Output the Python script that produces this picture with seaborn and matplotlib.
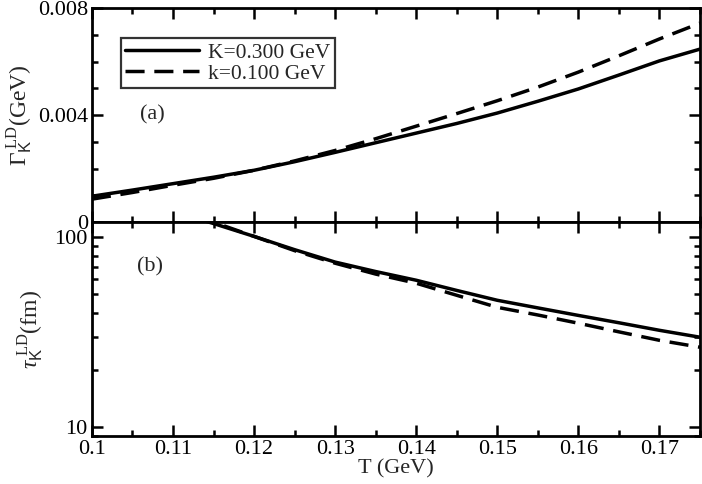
import matplotlib
matplotlib.use("Agg")
import matplotlib.pyplot as plt
import matplotlib.ticker as mticker
import seaborn as sns
import pandas as pd
import numpy as np

# Temperature grid (GeV)
temps = [0.100, 0.105, 0.110, 0.115, 0.120, 0.125, 0.130, 0.135,
         0.140, 0.145, 0.150, 0.155, 0.160, 0.165, 0.170, 0.175]

# Width Gamma_K^LD (GeV)
gamma_k300 = [0.00097, 0.00120, 0.00144, 0.00168, 0.00194, 0.00226, 0.00261, 0.00297,
              0.00333, 0.00369, 0.00408, 0.00452, 0.00498, 0.00550, 0.00603, 0.00647]
gamma_k100 = [0.00086, 0.00111, 0.00138, 0.00164, 0.00194, 0.00229, 0.00268, 0.00312,
              0.00359, 0.00406, 0.00454, 0.00505, 0.00561, 0.00622, 0.00685, 0.00744]

# Lifetime tau_K^LD (fm)
tau_k300 = [203, 164, 137, 118, 101, 86, 74, 66,
            59.4, 52.5, 46.6, 42.5, 38.8, 35.5, 32.4, 29.8]
tau_k100 = [229, 178, 143, 120, 101, 85, 73, 64,
            57.3, 49.5, 42.8, 39.0, 35.3, 31.8, 28.7, 26.4]

series_labels = ["K=0.300 GeV", "k=0.100 GeV"]

df = pd.DataFrame({
    "T": temps * 2,
    "gamma": gamma_k300 + gamma_k100,
    "tau": tau_k300 + tau_k100,
    "series": [series_labels[0]] * len(temps) + [series_labels[1]] * len(temps),
})

sns.set_style("ticks")
plt.rcParams["font.family"] = ["Liberation Serif", "DejaVu Serif"]
plt.rcParams["mathtext.fontset"] = "custom"
plt.rcParams["mathtext.rm"] = "Liberation Serif"
plt.rcParams["mathtext.it"] = "Liberation Serif:italic"
plt.rcParams["mathtext.sf"] = "Liberation Sans"
plt.rcParams["font.size"] = 16

fig = plt.figure(figsize=(7.02, 4.84), dpi=100)
ax1 = fig.add_axes([0.131, 0.541, 0.866, 0.442])
ax2 = fig.add_axes([0.131, 0.099, 0.866, 0.442], sharex=ax1)

styles = {series_labels[0]: "", series_labels[1]: (5.5, 2.8)}
palette = {series_labels[0]: "black", series_labels[1]: "black"}

sns.lineplot(data=df, x="T", y="gamma", hue="series", style="series",
             dashes=styles, palette=palette, linewidth=2.5, ax=ax1)
sns.lineplot(data=df, x="T", y="tau", hue="series", style="series",
             dashes=styles, palette=palette, linewidth=2.5, ax=ax2, legend=False)

ax1.set_xlim(0.1, 0.175)
ax1.set_ylim(0, 0.008)
ax2.set_yscale("log")
ax2.set_ylim(9, 120)

for ax in (ax1, ax2):
    for sp in ax.spines.values():
        sp.set_linewidth(2)
        sp.set_color("black")
    ax.tick_params(which="both", direction="in", top=True, right=True,
                   width=1.8, labelsize=16, colors="black", pad=3)
    ax.tick_params(which="major", length=8)
    ax.tick_params(which="minor", length=4)
    ax.xaxis.set_major_locator(mticker.MultipleLocator(0.01))
    ax.xaxis.set_minor_locator(mticker.MultipleLocator(0.005))

ax1.yaxis.set_major_locator(mticker.MultipleLocator(0.004))
ax1.yaxis.set_minor_locator(mticker.MultipleLocator(0.001))
ax1.yaxis.set_major_formatter(mticker.FuncFormatter(lambda v, p: "0" if v == 0 else f"{v:.3f}"))
ax1.tick_params(axis="x", labelbottom=False)

ax2.yaxis.set_major_locator(mticker.LogLocator(base=10))
ax2.yaxis.set_minor_locator(mticker.LogLocator(base=10, subs=np.arange(2, 10)))
ax2.yaxis.set_major_formatter(mticker.FuncFormatter(lambda v, p: f"{v:g}"))
ax2.yaxis.set_minor_formatter(mticker.NullFormatter())
ax2.xaxis.set_major_formatter(mticker.FuncFormatter(lambda v, p: f"{v:g}"))

ax1.set_xlabel("")
ax1.set_ylabel(r"$\Gamma_{\mathsf{K}}^{\ \mathrm{LD}}$(GeV)", fontsize=17, labelpad=2)
ax2.set_ylabel(r"$\tau_{\mathsf{K}}^{\ \mathrm{LD}}$(fm)", fontsize=17, labelpad=6)
ax2.set_xlabel("T (GeV)", fontsize=16, labelpad=0)

ax1.text(0.1074, 0.0040, "(a)", fontsize=16, ha="center", va="center")
ax2.text(0.1072, 70, "(b)", fontsize=16, ha="center", va="center")

leg = ax1.legend(loc="upper left", bbox_to_anchor=(0.048, 0.86), frameon=True,
                 fancybox=False, edgecolor="black", fontsize=15.5, handlelength=3.4,
                 borderpad=0.2, labelspacing=0.05, handletextpad=0.45,
                 borderaxespad=0)
leg.get_frame().set_linewidth(1.6)
leg.set_title(None)

fig.savefig("out.png", dpi=100)
